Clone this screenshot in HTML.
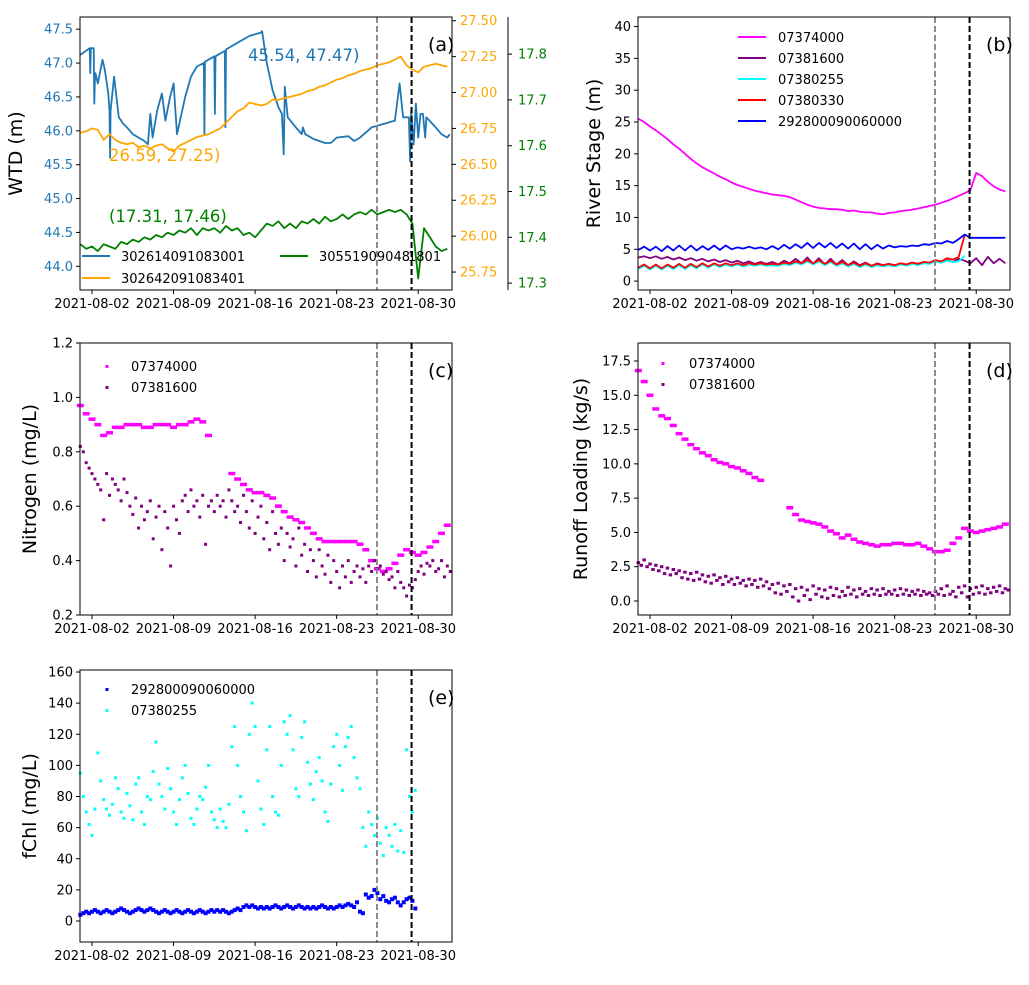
<!DOCTYPE html>
<html><head><meta charset="utf-8"><style>
body{margin:0;background:#fff}
svg text{font-family:"DejaVu Sans","Liberation Sans",sans-serif}
</style></head><body>
<svg id="c" width="1029" height="980" xmlns="http://www.w3.org/2000/svg"></svg>
<script>
// ---- data ----
const xTickLabels=["2021-08-02","2021-08-09","2021-08-16","2021-08-23","2021-08-30"];
const xTickDays=[1,8,15,22,29];
const eventDays=[25.46,28.43];
// (a)
const wtdBlueT=[0,0.8,0.85,0.9,1.15,1.2,1.25,1.3,1.5,1.9,2.1,2.4,2.5,2.55,2.6,2.9,3.3,3.7,4,4.5,5,5.5,5.8,6.0,6.2,6.6,7,7.3,7.7,8,8.3,9,9.5,10,10.6,10.65,10.7,11.5,11.55,11.6,12.4,12.45,12.5,13.5,14.5,15.5,15.6,16,16.5,17,17.3,17.45,17.55,17.8,18.5,19,19.1,19.3,20,21,21.5,22,23,23.5,24,25,26,27,27.4,27.7,28.2,28.3,28.4,28.6,28.8,29.0,29.2,29.4,29.6,29.7,30.5,31,31.5,31.7];
const wtdBlueV=[47.12,47.22,46.85,47.22,47.22,46.4,46.75,46.85,46.7,47.05,46.9,46.55,46.3,45.6,46.3,46.8,46.2,46.1,46.05,45.95,45.9,45.85,45.8,46.25,45.9,46.3,46.55,46.15,46.5,46.7,45.95,46.5,46.8,46.95,47.0,45.95,47.02,47.1,46.25,47.1,47.18,46.05,47.2,47.3,47.4,47.45,47.47,47.0,46.6,46.35,46.25,45.65,46.65,46.2,46.05,45.95,46.05,45.95,45.88,45.82,45.82,45.9,45.92,45.85,45.9,46.05,46.1,46.15,46.7,46.2,46.2,45.55,46.3,45.8,46.4,45.9,46.25,46.25,45.9,46.2,46.05,45.95,45.9,45.95];
const wtdOrange=[26.72,26.73,26.75,26.74,26.67,26.71,26.67,26.65,26.64,26.65,26.62,26.63,26.61,26.63,26.64,26.61,26.59,26.63,26.65,26.67,26.69,26.70,26.71,26.73,26.75,26.79,26.83,26.87,26.89,26.93,26.92,26.91,26.92,26.95,26.95,26.96,26.97,26.98,26.99,27.01,27.02,27.04,27.05,27.07,27.09,27.10,27.12,27.13,27.15,27.16,27.17,27.19,27.20,27.21,27.23,27.25,27.19,27.16,27.14,27.18,27.19,27.20,27.19,27.18];
const wtdGreen=[17.385,17.375,17.38,17.37,17.385,17.38,17.375,17.39,17.385,17.395,17.39,17.40,17.395,17.405,17.40,17.41,17.405,17.415,17.41,17.42,17.405,17.42,17.415,17.42,17.41,17.425,17.415,17.42,17.405,17.41,17.40,17.415,17.43,17.425,17.435,17.42,17.43,17.42,17.435,17.43,17.44,17.43,17.445,17.435,17.44,17.45,17.44,17.45,17.455,17.45,17.46,17.45,17.455,17.46,17.455,17.46,17.45,17.43,17.31,17.42,17.40,17.38,17.37,17.375];
// (b)
const stageMagenta=[25.5,25,24.3,23.7,23,22.3,21.5,20.8,20,19.2,18.5,17.9,17.4,16.9,16.4,16,15.5,15.1,14.8,14.5,14.2,14,13.8,13.6,13.5,13.4,13.2,12.8,12.4,12,11.7,11.5,11.4,11.3,11.3,11.2,11,11.1,10.9,10.8,10.8,10.6,10.5,10.7,10.8,11,11.1,11.2,11.4,11.6,11.8,12,12.3,12.6,13,13.4,13.8,14.3,17,16.5,15.6,14.9,14.4,14.1];
const stagePurple=[3.7,3.9,3.6,3.9,3.5,3.8,3.4,3.7,3.3,3.6,3.2,3.5,3.1,3.4,3.0,3.3,2.9,3.2,2.8,3.1,2.7,3.0,2.7,3.0,2.6,3.2,2.8,3.5,2.8,3.7,2.7,3.6,2.6,3.5,2.6,3.3,2.5,3.1,2.5,2.9,2.4,2.8,2.5,2.7,2.5,2.8,2.6,2.9,2.7,3.0,2.8,3.1,2.9,3.3,3.0,3.5,3.2,2.8,3.6,2.5,3.8,2.8,3.5,2.8];
const stageCyan=[1.9,2.4,1.8,2.4,1.8,2.4,1.9,2.5,1.9,2.5,2.0,2.6,2.1,2.6,2.2,2.6,2.3,2.6,2.3,2.6,2.4,2.6,2.4,2.5,2.4,2.7,2.5,2.9,2.6,3.1,2.6,3.1,2.5,3.0,2.4,2.8,2.3,2.7,2.2,2.6,2.2,2.5,2.3,2.5,2.3,2.6,2.4,2.7,2.5,2.8,2.7,3.1,2.9,3.2,3.0,3.1,4.0];
const stageRed=[2.1,2.6,2.0,2.6,2.0,2.6,2.1,2.7,2.1,2.7,2.2,2.8,2.3,2.8,2.4,2.8,2.5,2.8,2.5,2.8,2.6,2.8,2.6,2.7,2.6,2.9,2.7,3.1,2.8,3.3,2.8,3.3,2.7,3.2,2.6,3.0,2.5,2.9,2.4,2.8,2.4,2.7,2.5,2.7,2.5,2.8,2.6,2.9,2.7,3.0,2.9,3.3,3.1,3.6,3.4,3.8,7.2];
const stageBlue=[4.9,5.4,4.8,5.4,4.7,5.5,4.8,5.6,4.8,5.6,4.8,5.5,4.9,5.6,4.9,5.6,5.0,5.3,5.1,5.4,5.1,5.3,5.0,5.5,5.0,5.7,5.1,5.8,5.2,6.0,5.2,6.0,5.3,6.0,5.2,5.9,5.1,5.9,5.0,5.8,5.0,5.7,5.1,5.6,5.3,5.5,5.4,5.6,5.5,5.8,5.7,6.0,5.9,6.3,6.0,6.6,7.3,6.8,6.8,6.8,6.8,6.8,6.8,6.8];
// (c)
const nitroMagenta=[0.97,0.94,0.92,0.90,0.86,0.87,0.89,0.89,0.90,0.90,0.90,0.89,0.89,0.90,0.90,0.90,0.89,0.90,0.90,0.91,0.92,0.91,0.86,null,null,null,0.72,0.70,0.68,0.66,0.65,0.65,0.64,0.63,0.60,0.58,0.56,0.55,0.54,0.52,0.50,0.48,0.47,0.47,0.47,0.47,0.47,0.47,0.46,0.44,0.40,0.37,0.36,0.37,0.39,0.42,0.44,0.43,0.42,0.43,0.45,0.47,0.50,0.53];
const nitroPurple=[0.82,0.80,0.76,0.74,0.72,0.70,0.68,0.66,0.55,0.72,0.64,0.70,0.68,0.66,0.62,0.70,0.65,0.60,0.57,0.63,0.52,0.60,0.55,0.58,0.62,0.48,0.56,0.60,0.44,0.58,0.52,0.38,0.60,0.55,0.50,0.62,0.64,0.58,0.66,0.60,0.62,0.56,0.64,0.46,0.60,0.62,0.58,0.64,0.60,0.62,0.56,0.66,0.62,0.58,0.60,0.54,0.64,0.58,0.52,0.62,0.50,0.56,0.60,0.48,0.54,0.44,0.58,0.50,0.46,0.52,0.40,0.50,0.45,0.48,0.38,0.52,0.42,0.46,0.36,0.44,0.40,0.34,0.44,0.38,0.35,0.42,0.32,0.40,0.36,0.30,0.38,0.34,0.40,0.32,0.36,0.38,0.34,0.37,0.32,0.38,0.36,0.40,0.37,0.38,0.35,0.36,0.33,0.34,0.30,0.36,0.32,0.30,0.27,0.31,0.30,0.33,0.36,0.38,0.35,0.39,0.38,0.40,0.36,0.37,0.40,0.34,0.38,0.36];
// (d)
const loadMagenta=[16.8,16,15,14,13.5,13.3,12.8,12.2,11.8,11.4,11.1,10.8,10.6,10.3,10.1,10.0,9.8,9.7,9.5,9.3,9.0,8.8,null,null,null,null,6.8,6.3,5.9,5.8,5.7,5.6,5.4,5.1,4.9,4.6,4.8,4.5,4.3,4.2,4.1,4.0,4.1,4.1,4.2,4.2,4.1,4.1,4.2,4.0,3.8,3.6,3.6,3.7,4.2,4.6,5.3,5.1,5.0,5.1,5.2,5.3,5.4,5.6];
const loadPurple=[2.8,2.6,3.0,2.5,2.7,2.3,2.6,2.2,2.5,2.0,2.4,1.9,2.3,2.0,2.2,1.7,2.1,1.6,2.0,1.5,2.1,1.6,1.9,1.4,1.8,1.3,1.9,1.5,1.7,1.2,1.8,1.4,1.6,1.2,1.7,1.3,1.5,1.1,1.6,1.2,1.5,1.0,1.6,1.1,1.4,0.9,1.2,0.6,1.3,0.5,1.1,0.7,1.2,0.3,0.9,0.0,1.0,0.4,0.8,0.1,1.1,0.5,0.9,0.3,0.8,0.2,1.0,0.4,0.9,0.3,0.7,0.4,1.0,0.5,0.8,0.3,0.9,0.5,0.7,0.4,0.9,0.5,0.8,0.4,0.9,0.5,0.7,0.5,0.8,0.4,0.9,0.5,0.8,0.4,0.7,0.5,0.8,0.4,0.7,0.5,0.6,0.4,0.7,0.5,0.9,0.4,1.1,0.5,0.7,0.3,1.0,0.6,1.1,0.3,0.9,0.5,1.0,0.6,1.1,0.5,0.9,0.6,1.0,0.7,1.1,0.6,0.9,0.8];
// (e)
const chlBlue=[4,5,6,5,6,7,6,5,6,7,6,5,6,7,8,7,6,5,6,7,8,7,6,7,8,7,6,5,6,7,6,5,6,7,6,5,6,7,6,5,6,7,6,5,6,7,6,7,6,7,6,5,6,7,8,7,9,10,9,10,9,8,9,8,9,8,9,10,9,8,9,10,9,8,9,10,9,8,9,8,9,8,9,10,9,8,9,8,9,10,9,10,11,10,9,12,6,5,17,15,16,20,18,14,16,13,12,14,15,12,10,12,14,15,13,8];
const chlCyan=[95,80,70,62,55,72,108,90,78,72,68,75,92,85,70,66,82,74,65,88,92,70,62,80,78,96,115,88,80,72,98,85,70,62,78,92,100,82,66,62,72,80,78,86,100,70,65,60,72,64,60,75,112,125,100,80,70,58,120,140,125,90,72,62,110,125,80,70,68,100,128,120,132,110,85,80,118,128,102,88,78,96,105,90,70,64,88,112,120,100,84,112,118,125,105,92,85,60,48,70,62,55,66,50,42,60,55,48,62,45,58,44,110,80,70,84];

// ---- drawing ----
const svg=document.getElementById('c');
const NS='http://www.w3.org/2000/svg';
function mk(tag,attrs,parent){const e=document.createElementNS(NS,tag);for(const k in attrs)e.setAttribute(k,attrs[k]);(parent||svg).appendChild(e);return e;}
function txt(s,x,y,o,parent){const e=mk('text',Object.assign({x:x,y:y,'font-size':13,fill:'#000'},o||{}),parent);e.textContent=s;return e;}
const T0=-0.03,T1=31.9;
function panel(name,x0,x1,y0,y1,ymin,ymax){
  const g=mk('g',{});
  
  
  return {g,x0,x1,y0,y1,
    X:t=>x0+(t-T0)/(T1-T0)*(x1-x0),
    Y:v=>y1-(v-ymin)/(ymax-ymin)*(y1-y0),
    Ys:(lo,hi)=>v=>y1-(v-lo)/(hi-lo)*(y1-y0)};
}
function frame(P,yTicks,yLabels,ylab,labX,tickColor,plabel){
  const g=P.g;
  xTickDays.forEach((d,i)=>{const x=P.X(d);
    const l=mk('line',{x1:x,x2:x,y1:P.y1,y2:P.y1+4,stroke:'#000'},g);
    
    const t=txt(xTickLabels[i],x,P.y1+18,{'text-anchor':'middle'},g);
    });
  yTicks.forEach((v,i)=>{const y=P.Y(v);
    mk('line',{x1:P.x0-4,x2:P.x0,y1:y,y2:y,stroke:'#000'},g);
    const t=txt(yLabels[i],P.x0-7,y+4.5,{'text-anchor':'end',fill:tickColor||'#000'},g);
    });
  const cy=(P.y0+P.y1)/2;
  const yl=txt(ylab,labX,cy,{'text-anchor':'middle','font-size':19,transform:`rotate(-90 ${labX} ${cy})`},g);
  
  eventDays.forEach((d,i)=>{const x=P.X(d);
    const l=mk('line',{x1:x,x2:x,y1:P.y0,y2:P.y1,stroke:i?'#000':'#808080','stroke-width':i?2:1.8,'stroke-dasharray':'6,3'},g);
    });
  const r=mk('rect',{x:P.x0,y:P.y0,width:P.x1-P.x0,height:P.y1-P.y0,fill:'none',stroke:'#000','stroke-width':1},g);
  
  const pl=txt(plabel,P.x1-24,P.y0+34,{'font-size':19},g);
  
}
function line(P,ts,vs,Y,color,name,w){
  let d='',pen=false;
  vs.forEach((v,i)=>{if(v==null){pen=false;return;}d+=(pen?'L':'M')+P.X(ts[i]).toFixed(1)+','+Y(v).toFixed(1);pen=true;});
  const p=mk('path',{d:d,fill:'none',stroke:color,'stroke-width':w||1.8,'stroke-linejoin':'round'},P.g);
  
}
function step(n,s){return Array.from({length:n},(_,i)=>i*s);}
function dots(P,ts,vs,Y,color,name,w,h){
  const g=mk('g',{fill:color},P.g);
  
  vs.forEach((v,i)=>{if(v==null)return;mk('rect',{x:(P.X(ts[i])-w/2).toFixed(1),y:(Y(v)-h/2).toFixed(1),width:w,height:h},g);});
}
function legend(g,items,name){
  const lg=mk('g',{},g);
  items.forEach(it=>{
    if(it.dot) mk('rect',{x:it.lx-1.5,y:it.y-6,width:3,height:3,fill:it.c},lg);
    else mk('line',{x1:it.lx,x2:it.lx+28,y1:it.y-5,y2:it.y-5,stroke:it.c,'stroke-width':2},lg);
    const t=txt(it.s,it.tx,it.y,{},lg);
  });
}

// Panel a
const A=panel('panel-a-wtd',80,452,17,290,43.65,47.68);
const Yor=A.Ys(25.625,27.526), Ygr=A.Ys(17.285,17.881);
line(A,wtdBlueT,wtdBlueV,A.Y,'#1f77b4','series-302614091083001',1.8);
line(A,step(64,0.5),wtdOrange,Yor,'#ffa500','series-302642091083401',1.8);
line(A,step(64,0.5),wtdGreen,Ygr,'#008000','series-30551909048',1.8);
frame(A,[44,44.5,45,45.5,46,46.5,47,47.5],['44.0','44.5','45.0','45.5','46.0','46.5','47.0','47.5'],'WTD (m)',22,'#1f77b4','(a)');
[25.75,26,26.25,26.5,26.75,27,27.25,27.5].forEach(v=>{const y=Yor(v);mk('line',{x1:452,x2:456,y1:y,y2:y,stroke:'#000'},A.g);
  const t=txt(v.toFixed(2),460,y+4.5,{fill:'#ffa500'},A.g);});
mk('line',{x1:508,x2:508,y1:17,y2:290,stroke:'#000'},A.g);
[17.3,17.4,17.5,17.6,17.7,17.8].forEach(v=>{const y=Ygr(v);mk('line',{x1:508,x2:512,y1:y,y2:y,stroke:'#000'},A.g);
  const t=txt(v.toFixed(1),518,y+4.5,{fill:'#008000'},A.g);});
[['45.54, 47.47)',248,61,'#1f77b4'],['26.59, 27.25)',109,161,'#ffa500'],['(17.31, 17.46)',109,222,'#008000']].forEach(a=>{
  const t=txt(a[0],a[1],a[2],{'font-size':16.5,fill:a[3]},A.g);});
legend(A.g,[{s:'302614091083001',c:'#1f77b4',lx:82,tx:121,y:261},{s:'302642091083401',c:'#ffa500',lx:82,tx:121,y:283},{s:'30551909048',c:'#008000',lx:280,tx:319,y:261}],'legend-a');
const tail=txt('1801',408,261,{},A.g);



// Panel b
const B=panel('panel-b-stage',638,1010,17,290,-1.4,41.5);
const tb=step(64,0.5);
line(B,tb,stageMagenta,B.Y,'#ff00ff','series-07374000',1.8);
line(B,tb,stagePurple,B.Y,'#800080','series-07381600',1.8);
line(B,tb,stageCyan,B.Y,'#00ffff','series-07380255',1.8);
line(B,tb,stageRed,B.Y,'#ff0000','series-07380330',1.8);
line(B,tb,stageBlue,B.Y,'#0000ff','series-292800090060000',1.8);
frame(B,[0,5,10,15,20,25,30,35,40],['0','5','10','15','20','25','30','35','40'],'River Stage (m)',600,'#000','(b)');
legend(B.g,[['07374000','#ff00ff'],['07381600','#800080'],['07380255','#00ffff'],['07380330','#ff0000'],['292800090060000','#0000ff']].map((a,i)=>({s:a[0],c:a[1],lx:738,tx:778,y:42+i*21})),'legend-b');

// Panel c
const C=panel('panel-c-nitrogen',80,452,343,615,0.2,1.2);
dots(C,step(64,0.5),nitroMagenta,C.Y,'#ff00ff','series-07374000',7,3.5);
dots(C,step(128,0.25),nitroPurple,C.Y,'#800080','series-07381600',3,3);
frame(C,[0.2,0.4,0.6,0.8,1.0,1.2],['0.2','0.4','0.6','0.8','1.0','1.2'],'Nitrogen (mg/L)',36,'#000','(c)');
legend(C.g,[{s:'07374000',c:'#ff00ff',dot:1,lx:107,tx:131,y:371},{s:'07381600',c:'#800080',dot:1,lx:107,tx:131,y:392}],'legend-c');

// Panel d
const D=panel('panel-d-loading',638,1010,343,615,-1.02,18.81);
dots(D,step(64,0.5),loadMagenta,D.Y,'#ff00ff','series-07374000',7,3.5);
dots(D,step(128,0.25),loadPurple,D.Y,'#800080','series-07381600',3.5,3);
frame(D,[0,2.5,5,7.5,10,12.5,15,17.5],['0.0','2.5','5.0','7.5','10.0','12.5','15.0','17.5'],'Runoff Loading (kg/s)',587,'#000','(d)');
legend(D.g,[{s:'07374000',c:'#ff00ff',dot:1,lx:663,tx:689,y:368},{s:'07381600',c:'#800080',dot:1,lx:663,tx:689,y:389}],'legend-d');

// Panel e
const E=panel('panel-e-fchl',80,452,670,942,-13.5,161.3);
dots(E,step(116,0.25),chlBlue,E.Y,'#0000ff','series-292800090060000',4,4);
dots(E,step(116,0.25),chlCyan,E.Y,'#00ffff','series-07380255',3,3);
frame(E,[0,20,40,60,80,100,120,140,160],['0','20','40','60','80','100','120','140','160'],'fChl (mg/L)',36,'#000','(e)');
legend(E.g,[{s:'292800090060000',c:'#0000ff',dot:1,lx:107,tx:131,y:694},{s:'07380255',c:'#00ffff',dot:1,lx:107,tx:131,y:715}],'legend-e');
</script>
</body></html>
